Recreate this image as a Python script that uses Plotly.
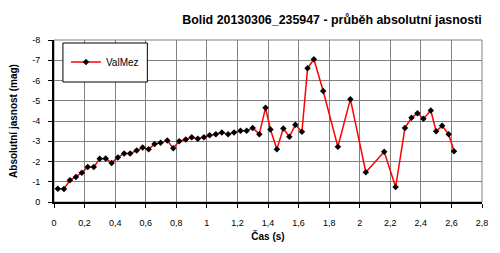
import plotly.graph_objects as go

# time (s)
t_values = [0.025, 0.065, 0.104, 0.143, 0.182, 0.221, 0.26, 0.299, 0.338, 0.377,
            0.418, 0.459, 0.498, 0.541, 0.58, 0.619, 0.658, 0.697, 0.741, 0.78,
            0.819, 0.862, 0.901, 0.941, 0.981, 1.018, 1.059, 1.098, 1.139, 1.178,
            1.22, 1.26, 1.30, 1.343, 1.384, 1.416, 1.458, 1.50, 1.54, 1.579,
            1.622, 1.659, 1.70, 1.761, 1.857, 1.939, 2.04, 2.16, 2.235, 2.296,
            2.339, 2.378, 2.417, 2.465, 2.50, 2.539, 2.582, 2.617]
# absolute magnitude (mag)
mag_values = [-0.66, -0.64, -1.07, -1.24, -1.44, -1.73, -1.73, -2.13, -2.15, -1.93,
              -2.2, -2.4, -2.4, -2.54, -2.69, -2.61, -2.86, -2.92, -3.04, -2.66,
              -3.0, -3.09, -3.2, -3.12, -3.20, -3.30, -3.35, -3.43, -3.35, -3.43,
              -3.52, -3.52, -3.66, -3.35, -4.65, -3.58, -2.61, -3.63, -3.22, -3.81,
              -3.47, -6.60, -7.05, -5.48, -2.73, -5.08, -1.47, -2.48, -0.74, -3.66,
              -4.16, -4.38, -4.11, -4.52, -3.49, -3.76, -3.35, -2.51]

x_tick_vals = [0, 0.2, 0.4, 0.6, 0.8, 1.0, 1.2, 1.4, 1.6, 1.8, 2.0, 2.2, 2.4, 2.6, 2.8]
x_tick_text = ["0", "0,2", "0,4", "0,6", "0,8", "1", "1,2", "1,4", "1,6", "1,8",
               "2", "2,2", "2,4", "2,6", "2,8"]
y_tick_vals = [0, -1, -2, -3, -4, -5, -6, -7, -8]
y_tick_text = ["0", "-1", "-2", "-3", "-4", "-5", "-6", "-7", "-8"]

series_name = "ValMez"
title_text = "Bolid 20130306_235947 - průběh absolutní jasnosti"
x_title = "Čas (s)"
y_title = "Absolutní jasnost (mag)"

FONT = "Arial, Liberation Sans, sans-serif"

fig = go.Figure()
fig.add_trace(go.Scatter(
    x=t_values, y=mag_values, mode="lines+markers", name=series_name,
    line=dict(color="#ff0000", width=1.5),
    marker=dict(symbol="diamond", size=5, color="#000000"),
))

fig.update_layout(
    width=500, height=253,
    margin=dict(l=54, r=15, t=40, b=51),
    paper_bgcolor="white", plot_bgcolor="white",
    font=dict(family=FONT, size=9, color="black"),
    title=dict(text="<b>" + title_text + "</b>", x=0.664, xref="container",
               xanchor="center", y=1 - 20 / 253, yanchor="middle",
               font=dict(size=12.4, family=FONT)),
    showlegend=True,
    legend=dict(x=(66 - 54) / 431, y=(202 - 62) / 162, xanchor="left", yanchor="middle",
                bgcolor="rgba(0,0,0,0)", borderwidth=0, itemwidth=30,
                font=dict(size=10, family=FONT)),
    shapes=[
        dict(type="rect", xref="paper", yref="paper", x0=0, x1=1, y0=0, y1=1,
             line=dict(color="#808080", width=1), layer="below"),
        dict(type="rect", xref="paper", yref="paper",
             x0=(63 - 54) / 431, x1=(148 - 54) / 431,
             y0=(202 - 82) / 162, y1=(202 - 43) / 162,
             line=dict(color="black", width=1), fillcolor="white", layer="above"),
    ],
)

fig.update_xaxes(
    range=[0, 2.8], tickvals=x_tick_vals, ticktext=x_tick_text,
    showgrid=True, gridcolor="#808080", gridwidth=1,
    showline=True, linecolor="black", linewidth=2,
    ticks="outside", ticklen=4, tickcolor="black",
    ticklabelstandoff=7, zeroline=False,
    title=dict(text="<b>" + x_title + "</b>", font=dict(size=10, family=FONT), standoff=6),
)
fig.update_yaxes(
    range=[0, -8], tickvals=y_tick_vals, ticktext=y_tick_text,
    showgrid=True, gridcolor="#808080", gridwidth=1,
    showline=True, linecolor="black", linewidth=2,
    ticks="outside", ticklen=4, tickcolor="black",
    ticklabelstandoff=6, zeroline=False,
    title=dict(text="<b>" + y_title + "</b>", font=dict(size=10, family=FONT), standoff=13),
)

fig.write_html("out.html")
